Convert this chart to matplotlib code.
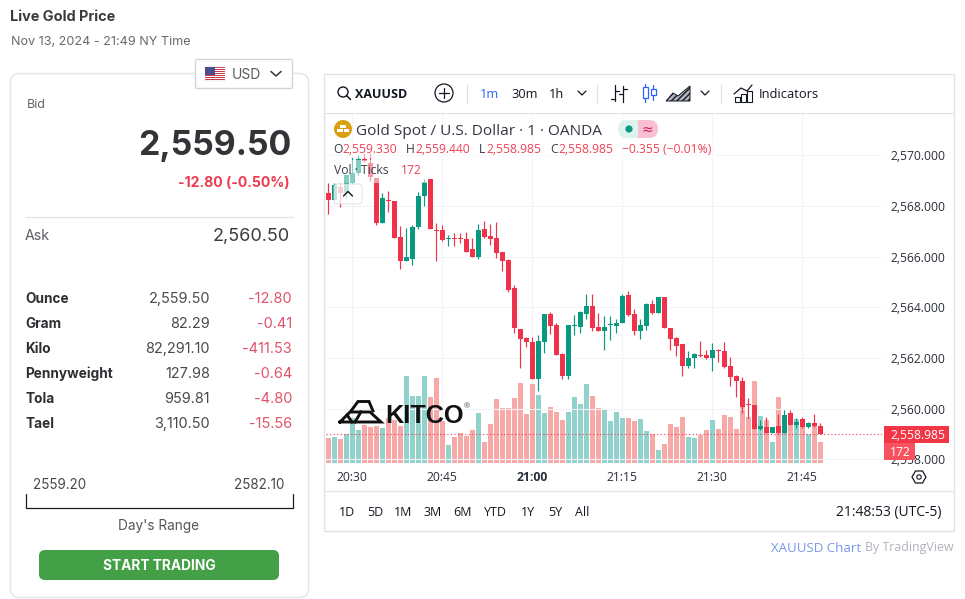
import matplotlib
matplotlib.use("Agg")
import matplotlib.pyplot as plt
from matplotlib.patches import Rectangle, FancyBboxPatch, Circle, Polygon

# ---------- data ----------
opens = [2568.50,2568.24,2568.76,2568.50,2568.89,2569.29,2569.84,2569.71,2569.09,2567.34,2568.22,2568.18,2566.76,2565.84,2565.92,2567.16,2568.40,2569.05,2567.05,2567.05,2566.70,2566.72,2566.74,2566.70,2566.29,2565.99,2567.08,2566.82,2566.74,2566.17,2565.87,2564.75,2563.13,2562.79,2562.63,2561.18,2562.64,2563.74,2563.29,2562.16,2561.29,2563.28,2563.24,2563.75,2564.05,2563.22,2563.08,2563.29,2563.28,2563.36,2564.47,2563.74,2563.08,2563.26,2564.13,2563.79,2564.41,2563.17,2562.79,2562.54,2561.68,2562.00,2562.13,2562.11,2562.00,2562.32,2562.26,2561.67,2561.29,2561.08,2560.17,2560.14,2559.21,2559.29,2559.05,2559.32,2559.05,2559.82,2559.36,2559.58,2559.29,2559.42,2559.33]
highs = [2568.89,2568.89,2568.92,2569.22,2569.95,2570.01,2570.08,2570.08,2569.09,2568.53,2568.61,2568.18,2567.21,2567.12,2567.25,2568.57,2569.07,2569.05,2567.32,2567.25,2566.85,2566.92,2566.92,2566.99,2566.72,2567.29,2567.39,2567.29,2567.35,2566.17,2565.91,2564.87,2563.13,2562.84,2562.82,2562.91,2563.72,2563.80,2563.39,2562.18,2563.29,2563.71,2563.87,2564.53,2564.53,2563.78,2563.66,2563.67,2563.54,2564.51,2564.64,2563.92,2563.54,2564.18,2564.29,2564.41,2564.41,2563.17,2562.84,2562.54,2562.28,2562.21,2562.67,2562.32,2562.59,2562.34,2562.63,2562.03,2561.34,2561.24,2560.41,2560.14,2559.55,2559.68,2559.26,2559.79,2559.95,2559.95,2559.62,2559.68,2559.49,2559.79,2559.44]
lows = [2567.68,2568.24,2567.97,2568.30,2568.89,2569.22,2569.75,2569.00,2567.25,2567.34,2567.78,2566.75,2565.53,2565.84,2565.68,2567.09,2568.00,2567.08,2565.84,2566.63,2566.42,2566.42,2566.53,2566.17,2565.97,2565.92,2566.75,2566.46,2565.93,2565.45,2564.60,2563.00,2561.60,2562.45,2561.18,2560.71,2562.21,2562.95,2562.13,2561.16,2561.16,2562.89,2563.00,2563.55,2563.05,2563.08,2562.32,2562.71,2563.00,2563.36,2563.66,2562.91,2562.75,2563.10,2563.74,2563.79,2563.20,2562.32,2562.08,2561.29,2561.62,2561.60,2562.05,2561.97,2561.50,2561.85,2561.62,2560.91,2560.47,2559.82,2559.62,2559.21,2559.16,2559.05,2559.05,2559.05,2559.05,2559.37,2559.22,2559.22,2559.22,2559.29,2558.985]
closes = [2568.24,2568.83,2568.50,2569.22,2569.29,2569.86,2569.79,2569.13,2567.34,2568.30,2568.20,2566.75,2565.84,2565.97,2567.18,2568.40,2568.93,2567.08,2567.03,2566.67,2566.72,2566.70,2566.70,2566.20,2565.99,2567.05,2566.78,2566.70,2566.14,2565.84,2564.68,2563.20,2562.75,2562.64,2561.18,2562.66,2563.72,2563.28,2562.13,2561.29,2563.29,2563.30,2563.82,2564.05,2563.18,2563.08,2563.22,2563.32,2563.38,2564.45,2563.70,2563.08,2563.29,2564.13,2563.78,2564.41,2563.20,2562.75,2562.49,2561.68,2561.99,2562.16,2562.08,2562.00,2562.30,2562.29,2561.64,2561.26,2561.10,2560.08,2560.14,2559.21,2559.32,2559.05,2559.26,2559.05,2559.75,2559.37,2559.49,2559.28,2559.42,2559.32,2558.985]
volumes = [202,213,194,235,363,268,308,289,300,281,366,349,300,710,546,546,710,538,693,341,145,210,240,218,268,404,169,317,521,448,448,530,652,399,644,554,404,456,415,349,415,538,480,644,546,448,442,341,415,366,366,341,358,259,235,104,153,317,292,374,210,202,227,268,349,276,390,374,276,472,374,669,382,349,169,538,390,308,358,308,235,300,172]
minute_labels = ["20:30","20:45","21:00","21:15","21:30","21:45"]
minute_ticks = [4,19,34,49,64,79]
price_ticks = [2558,2560,2562,2564,2566,2568,2570]
last_price = 2558.985
last_volume = 172
units = ["Ounce","Gram","Kilo","Pennyweight","Tola","Tael"]
unit_prices = ["2,559.50","82.29","82,291.10","127.98","959.81","3,110.50"]
unit_changes = ["-12.80","-0.41","-411.53","-0.64","-4.80","-15.56"]
ranges = ["1D","5D","1M","3M","6M","YTD","1Y","5Y","All"]
range_x = [347,375,403.5,432.5,462,495,527.5,555,582.5]

UP, DOWN = "#089981", "#f0324a"
VUP, VDOWN = "#92d2cc", "#f7a9a7"
GRID = "#f0f3f7"
CH = "Open Sans"
LF = "Inter"

fig = plt.figure(figsize=(9.65, 5.99), dpi=100, facecolor="white")
W, H = 965.0, 599.0
L, R, T, B = 325.5, 882.0, 113.0, 462.7
pos = [L/W, 1-B/H, (R-L)/W, (B-T)/H]
xlim = (-0.467, 92.28)
ylim = (2557.864, 2571.67)

# ---------- volume pane ----------
av = fig.add_axes(pos, zorder=1)
xs = list(range(len(closes)))
vcol = [VUP if c > o else VDOWN for o, c in zip(opens, closes)]
av.set_xlim(xlim); av.set_ylim(0, 2864)
av.set_xticks(minute_ticks); av.set_yticks([])
av.grid(axis="x", color=GRID, lw=0.8); av.set_axisbelow(True)
av.tick_params(axis="x", length=0, labelbottom=False)
for s in av.spines.values(): s.set_visible(False)
av.bar(xs, volumes, width=0.84, color=vcol, lw=0)

# ---------- candles ----------
ax = fig.add_axes(pos, zorder=2)
ax.patch.set_alpha(0)
ax.set_xlim(xlim); ax.set_ylim(ylim)
for s in ax.spines.values(): s.set_visible(False)
ax.yaxis.tick_right()
ax.set_yticks(price_ticks)
ax.set_yticklabels([f"{p:,.3f}" for p in price_ticks], family=CH, fontsize=8.7, color="#2a2e39", va="center_baseline")
ax.set_xticks(minute_ticks)
ax.set_xticklabels(minute_labels, family=CH, fontsize=8.7, color="#2a2e39")
ax.get_xticklabels()[2].set_fontweight("bold")
ax.tick_params(axis="both", length=0)
ax.tick_params(axis="y", pad=6)
ax.tick_params(axis="x", pad=6)
ax.grid(axis="y", color=GRID, lw=0.8); ax.set_axisbelow(True)
ccol = [UP if c > o else DOWN for o, c in zip(opens, closes)]
ax.vlines(xs, lows, highs, colors=ccol, lw=0.85)
ax.bar(xs, [max(abs(c-o), 0.04) for o, c in zip(opens, closes)],
       bottom=[min(o, c) for o, c in zip(opens, closes)], width=0.82, color=ccol, lw=0)
ax.axhline(last_price, color=DOWN, lw=0.8, ls=(0, (1, 2.2)))

# ---------- page overlay in pixel coordinates ----------
ui = fig.add_axes([0, 0, 1, 1], zorder=5)
ui.set_xlim(0, W); ui.set_ylim(H, 0); ui.axis("off"); ui.patch.set_alpha(0)

def t(x, y, s, size=9, color="#333338", weight="normal", ha="left", family=LF, z=6):
    return ui.text(x, y + 0.36*size*100/72, s, fontsize=size, color=color, fontweight=weight, ha=ha, va="baseline",
                   family=family, zorder=z)

def rbox(x0, y0, x1, y1, r, fc="white", ec="none", lw=1.0, z=2, alpha=None):
    p = FancyBboxPatch((x0+r, y0+r), x1-x0-2*r, y1-y0-2*r, boxstyle=f"round,pad={r},rounding_size={r}",
                       fc=fc, ec=ec, lw=lw, zorder=z, alpha=alpha)
    ui.add_patch(p)
    return p

def line(xv, yv, c="#131722", lw=0.9, z=6):
    ui.plot(xv, yv, color=c, lw=lw, zorder=z, solid_capstyle="round", solid_joinstyle="round")

# left panel
t(10.5, 16, "Live Gold Price", 10.4, "#3a3a3e", "bold")
t(11, 40, "Nov 13, 2024 - 21:49 NY Time", 9.1, "#68686e")
rbox(10.5, 73.5, 308.5, 597.5, 9, ec="#e4e5e9", lw=1)
rbox(195.5, 59.5, 292.5, 88.5, 1.5, ec="#d3d5da", lw=1, z=3)
# flag
for k in range(7):
    ui.add_patch(Rectangle((205, 67+2*k), 20, 1, fc="#c8384a", lw=0, zorder=4))
ui.add_patch(Rectangle((205, 67), 20, 14, fc="none", ec="#e8c8cc", lw=0.3, zorder=4))
ui.add_patch(Rectangle((205, 67), 10, 7.5, fc="#4a4f8c", lw=0, zorder=5))
t(232, 74, "USD", 10.0, "#5a5a60")
line([271, 276, 281], [71.5, 76, 71.5], "#333338", 1.1)
t(27, 104, "Bid", 9.0, "#66666c")
t(291, 143, "2,559.50", 24.4, "#333338", "bold", ha="right")
t(290, 182, "-12.80 (-0.50%)", 10.1, "#ee3a50", "bold", ha="right")
line([25, 293], [216.5, 216.5], "#e3e4e8", 0.9)
t(25, 235, "Ask", 10.2, "#5c5c62")
t(290, 235, "2,560.50", 13.0, "#3c3c40", ha="right")
for k, (u, p, c) in enumerate(zip(units, unit_prices, unit_changes)):
    y = 298 + 25*k
    t(25, y, u, 9.8, "#2f2f33", "bold")
    t(210, y, p, 10.4, "#48484d", ha="right")
    t(292, y, c, 10.5, "#e0536a", ha="right")
t(33, 484, "2559.20", 9.7, "#48484d")
t(284, 484, "2582.10", 9.7, "#48484d", ha="right")
line([25.5, 25.5, 292.5, 292.5], [494, 507.5, 507.5, 494], "#1a1a1a", 0.9)
t(158.5, 525, "Day's Range", 9.8, "#55555a", ha="center")
rbox(39, 550, 279, 580, 6, fc="#43a047", z=3)
t(159, 565, "START TRADING", 9.9, "white", "bold", ha="center")

# chart frame and toolbar
ui.add_patch(Rectangle((324, 73.5), 629.5, 457, fc="none", ec="#e0e3eb", lw=1, zorder=3))
line([325, 953], [112.5, 112.5], "#e0e3eb", 0.9, 3)
line([325, 953], [491.2, 491.2], "#e0e3eb", 0.9, 3)
for x in [466, 596, 720]:
    line([x+.5, x+.5], [84, 103], "#e0e3eb", 0.9, 3)
ui.add_patch(Circle((343, 92), 5, fc="none", ec="#131722", lw=1))
line([346.5, 350.5], [95.5, 99.5], "#131722", 1.1)
t(355, 93, "XAUUSD", 9.0, "#131722", "bold", family=CH)
ui.add_patch(Circle((444, 93), 9, fc="none", ec="#131722", lw=0.9))
line([439, 449], [93, 93]); line([444, 444], [88, 98])
t(480, 93, "1m", 9.2, "#2962ff", family=CH)
t(511, 93, "30m", 9.2, "#131722", family=CH)
t(549, 93, "1h", 9.2, "#131722", family=CH)
line([578, 582, 586], [91, 95, 91]); line([701, 705, 709], [91, 95, 91])
# bar-style icon
line([615, 615], [85, 101]); line([623, 623], [86, 102]); line([611, 615], [99, 99]); line([615, 619], [91, 91])
line([619, 623], [94, 94]); line([623, 627], [89, 89])
# candle-style icon
BL = "#2962ff"
line([645, 645], [84, 102], BL); line([653, 653], [85, 100], BL)
ui.add_patch(Rectangle((642.5, 87), 5, 11, fc="white", ec=BL, lw=0.9, zorder=6))
ui.add_patch(Rectangle((650.5, 89), 5, 6, fc="white", ec=BL, lw=0.9, zorder=6))
# area icon
ui.add_patch(Polygon([(666, 101), (673, 93), (678, 96), (690, 86), (690, 101)], fc="#b5b7bc", ec="#131722", lw=0.7, hatch="//////", zorder=6))
line([734, 741, 747, 752], [94, 88, 91, 85])
for x0, h in [(735, 5), (741, 8), (747, 11)]:
    ui.add_patch(Rectangle((x0, 102-h), 5, h, fc="white", ec="#131722", lw=0.8, zorder=6))
t(759, 93, "Indicators", 9.3, "#131722", family=CH)

# legend veils over the chart
ui.add_patch(Rectangle((331, 140), 385, 18, fc="white", alpha=0.55, lw=0, zorder=2))
ui.add_patch(Rectangle((331, 160), 96, 22.7, fc="white", alpha=0.5, lw=0, zorder=2))
rbox(334, 184, 362, 204, 3, fc="white", ec="#d8dbe2", lw=0.8, z=3, alpha=0.75)
line([343.5, 348, 352.5], [196, 191.5, 196], "#131722", 1)

# chart legend
ui.add_patch(Circle((343, 129), 9, fc="#d9a014", lw=0, zorder=6))
ui.add_patch(Rectangle((340.3, 124.5), 5.4, 3, fc="white", lw=0, zorder=7))
ui.add_patch(Rectangle((337.3, 128.5), 5.2, 3, fc="white", lw=0, zorder=7))
ui.add_patch(Rectangle((343.5, 128.5), 5.2, 3, fc="white", lw=0, zorder=7))
t(356, 129, "Gold Spot / U.S. Dollar · 1 · OANDA", 11.1, "#333642", family=CH)
rbox(618, 120, 658, 138, 9, fc="#def3ef", z=5)
pink = FancyBboxPatch((638, 120), 20, 18, boxstyle="square,pad=0", fc="#f9c0d3", lw=0, zorder=6)
ui.add_patch(pink)
pink.set_clip_path(rbox(618, 120, 658, 138, 9, fc="none", z=4))
ui.add_patch(Circle((629, 129), 3.6, fc=UP, lw=0, zorder=7))
t(647.5, 129, "≈", 10, "#d81b60", ha="center", family="DejaVu Sans", z=7)
RD = "#ef4155"; DK = "#3a3d48"
for x, s, c in [(333, "O", DK), (342.5, "2,559.330", RD), (405.5, "H", DK), (415.5, "2,559.440", RD),
                (479, "L", DK), (486, "2,558.985", RD), (550, "C", DK), (558.5, "2,558.985", RD),
                (622, "−0.355 (−0.01%)", RD)]:
    t(x, 149, s, 8.7, c, family=CH)
t(334, 170, "Vol · Ticks", 8.7, DK, family=CH)
t(401, 170, "172", 8.7, RD, family=CH)

# last-value labels
ui.add_patch(Rectangle((884, 426), 65, 17, fc="#f23645", lw=0, zorder=6))
t(945, 434.3, f"{last_price:,.3f}", 8.7, "white", ha="right", family=CH, z=7)
ui.add_patch(Rectangle((884, 443), 31, 17, fc="#f7525f", lw=0, zorder=6))
t(890, 451.5, str(last_volume), 8.7, "white", family=CH, z=7)
# settings hexagon
ui.add_patch(Polygon([(912, 477), (915.5, 471), (922.5, 471), (926, 477), (922.5, 483), (915.5, 483)], fc="none", ec="#131722", lw=0.9, zorder=6))
ui.add_patch(Circle((919, 477), 2.2, fc="none", ec="#131722", lw=0.8, zorder=6))

# KITCO logo
LG = "#111111"
for pts in [[(340, 422), (350, 412), (370, 412), (381, 422), (340, 422)],
            [(351, 411), (358, 401.5), (369, 401.5), (373, 411)],
            [(347, 415), (352, 422)], [(361, 412), (355, 422)]]:
    ui.plot(*zip(*pts), color=LG, lw=2.1, zorder=6, solid_joinstyle="miter")
t(385, 413.5, "KITCO", 18.2, LG, "bold", family="Liberation Sans")
t(464, 405.5, "®", 6, "#444", family="Liberation Sans")

# bottom bar
for x, s in zip(range_x, ranges):
    t(x, 511, s, 9.0, "#131722", ha="center", family=CH)
t(942, 511, "21:48:53 (UTC-5)", 10.0, "#131722", ha="right", family=CH)
t(771, 547, "XAUUSD Chart", 9.5, "#7b98e6", family=CH)
t(954, 547, "By TradingView", 8.9, "#b0b3ba", ha="right", family=CH)

fig.savefig("out.png", dpi=100)
